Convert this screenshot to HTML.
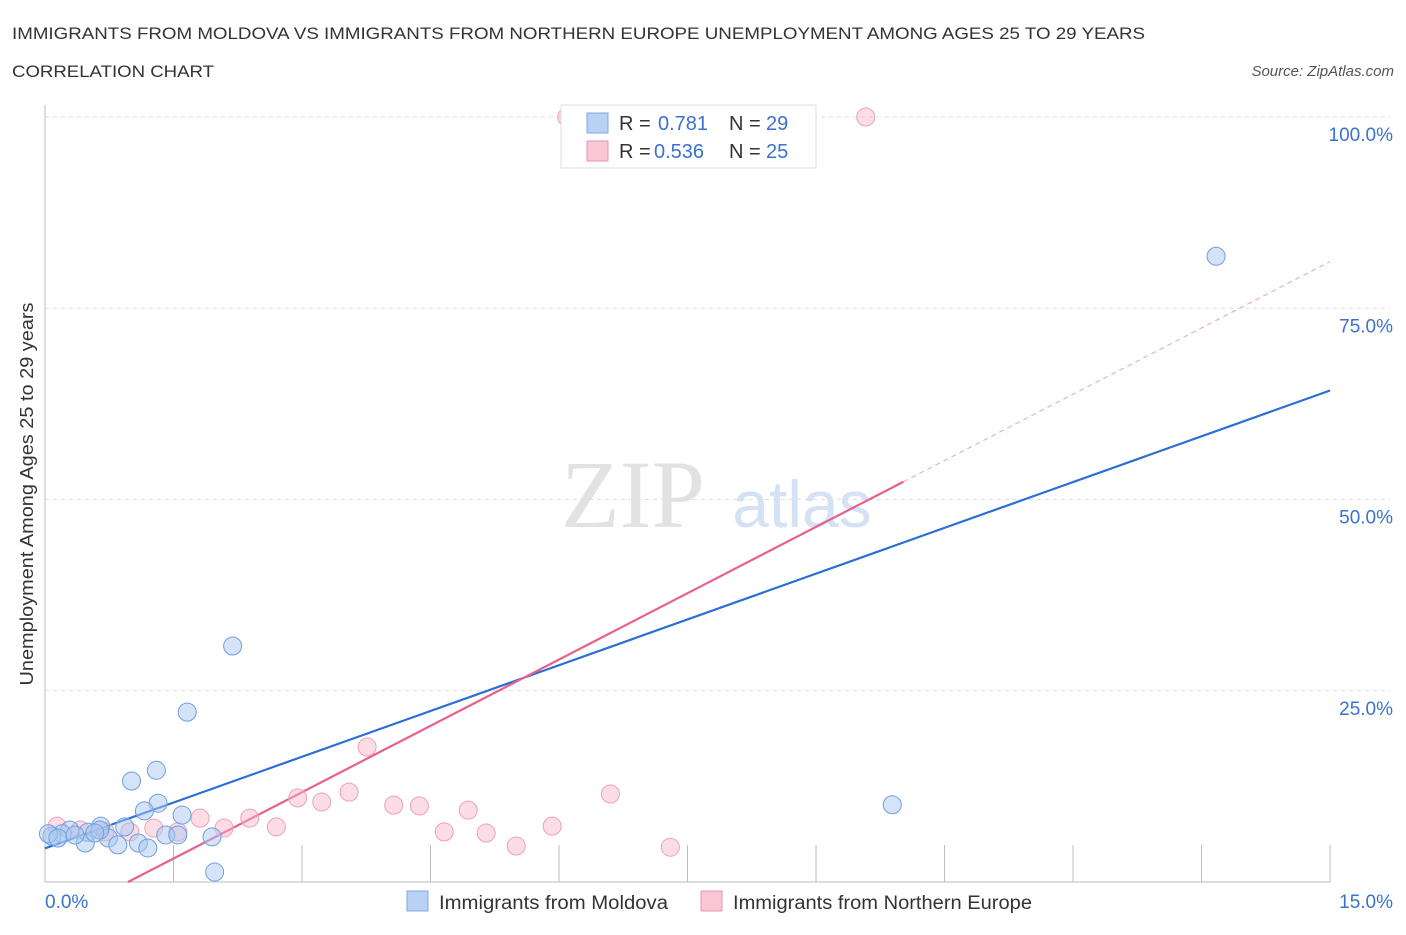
<!DOCTYPE html>
<html><head><meta charset="utf-8"><style>
body{margin:0;background:#fff;font-family:"Liberation Sans",sans-serif;}
</style></head><body>
<svg id="chart" width="1406" height="930" xmlns="http://www.w3.org/2000/svg" font-family="Liberation Sans, sans-serif">
<text x="12" y="39" font-size="17" fill="#333" textLength="1133" lengthAdjust="spacingAndGlyphs">IMMIGRANTS FROM MOLDOVA VS IMMIGRANTS FROM NORTHERN EUROPE UNEMPLOYMENT AMONG AGES 25 TO 29 YEARS</text>
<text x="12" y="77" font-size="17" fill="#333" textLength="202" lengthAdjust="spacingAndGlyphs">CORRELATION CHART</text>
<text x="1394" y="76" font-size="15" fill="#555" font-style="italic" text-anchor="end">Source: ZipAtlas.com</text>
<text x="633" y="527" font-size="96" fill="#e2e2e2" text-anchor="middle" style="font-family:'Liberation Serif',serif">ZIP</text>
<text x="802" y="527" font-size="66" fill="#d4e2f4" text-anchor="middle">atlas</text>
<text transform="translate(33,494) rotate(-90)" font-size="18" fill="#333" text-anchor="middle" textLength="383" lengthAdjust="spacingAndGlyphs">Unemployment Among Ages 25 to 29 years</text>
<g id="grid"></g><g id="axes"></g><g id="lines"></g><g id="pts"></g>
<g>
<rect x="561" y="105" width="255" height="63" fill="#fff" stroke="#ddd"/>
<rect x="587" y="113" width="21" height="20" fill="#b9d2f3" stroke="#7fa8e6"/>
<rect x="587" y="141" width="21" height="20" fill="#f9c6d6" stroke="#ee93b0"/>
<text x="619" y="130" font-size="20" fill="#333">R = </text><text x="658" y="130" font-size="20" fill="#3a72d0">0.781</text>
<text x="729" y="130" font-size="20" fill="#333">N = </text><text x="766" y="130" font-size="20" fill="#3a72d0">29</text>
<text x="619" y="158" font-size="20" fill="#333">R = </text><text x="654" y="158" font-size="20" fill="#3a72d0">0.536</text>
<text x="729" y="158" font-size="20" fill="#333">N = </text><text x="766" y="158" font-size="20" fill="#3a72d0">25</text>
</g>
<g>
<rect x="407" y="891" width="21" height="20" fill="#b9d2f3" stroke="#7fa8e6"/>
<text x="439" y="909" font-size="19" fill="#333" textLength="229" lengthAdjust="spacingAndGlyphs">Immigrants from Moldova</text>
<rect x="701" y="891" width="21" height="20" fill="#f9c6d6" stroke="#ee93b0"/>
<text x="733" y="909" font-size="19" fill="#333" textLength="299" lengthAdjust="spacingAndGlyphs">Immigrants from Northern Europe</text>
</g>
</svg>
<script>
const yTicks=[25,50,75,100];
const xTickLabels=["0.0%","15.0%"];
const blueX=[2.19,1.66,1.30,1.01,1.32,1.16,1.60,0.93,0.65,0.50,0.29,0.20,0.08,0.04,0.15,0.47,0.74,0.85,1.09,1.20,1.41,1.55,1.95,1.98,9.89,13.67,0.64,0.35,0.58];
const blueY=[30.85,22.2,14.6,13.2,10.3,9.3,8.75,7.2,7.3,6.5,6.8,6.3,6.0,6.3,5.75,5.1,5.75,4.85,5.1,4.45,6.15,6.15,5.9,1.3,10.1,81.8,6.8,6.15,6.4];
const pinkX=[6.09,9.58,3.76,3.55,3.23,2.95,4.07,4.37,4.94,6.60,2.39,2.70,2.09,1.81,1.27,1.55,0.99,0.70,0.14,0.41,4.66,5.15,5.50,5.92,7.30];
const pinkY=[100,100,17.65,11.75,10.45,11.0,10.05,9.95,9.4,11.5,8.35,7.2,7.05,8.35,7.05,6.55,6.55,6.55,7.3,6.8,6.55,6.4,4.7,7.3,4.55];
const blueFit=[4.4,3.99];
const pinkFit=[-5.6,5.78];
const NS="http://www.w3.org/2000/svg";
const sx=v=>45+v*85.67, sy=v=>882-v*7.65;
function mk(parent,tag,attrs){const e=document.createElementNS(NS,tag);for(const k in attrs)e.setAttribute(k,attrs[k]);document.getElementById(parent).appendChild(e);return e;}
yTicks.forEach(t=>{
 const l=mk('grid','line',{x1:45,x2:1390,y1:sy(t),y2:sy(t),stroke:'#ddd','stroke-dasharray':'4,4'});
 
 
 const tx=mk('grid','text',{x:1393,y:sy(t)+24,'font-size':19,fill:'#3a72d0','text-anchor':'end'});
 tx.textContent=t.toFixed(1)+'%';
 
 
});
mk('axes','line',{x1:45,x2:45,y1:105,y2:882,stroke:'#bbb'});
mk('axes','line',{x1:45,x2:1330,y1:882,y2:882,stroke:'#bbb'});
for(let i=1;i<=10;i++){const x=sx(i*1.5);const t=mk('axes','line',{x1:x,x2:x,y1:845,y2:882,stroke:'#bbb'});}
const xl0=mk('axes','text',{x:45,y:908,'font-size':19,fill:'#3a72d0'});xl0.textContent=xTickLabels[0];


const xl1=mk('axes','text',{x:1393,y:908,'font-size':19,fill:'#3a72d0','text-anchor':'end'});xl1.textContent=xTickLabels[1];


function pts(xs,ys,fill,stroke,name){xs.forEach((x,i)=>{const c=mk('pts','circle',{cx:sx(x),cy:sy(ys[i]),r:9,fill:fill,stroke:stroke,'stroke-width':1});

});}
pts(pinkX,pinkY,'rgba(248,180,200,0.45)','#eea0b8','pink-point');
pts(blueX,blueY,'rgba(170,200,240,0.5)','#6f9fe0','blue-point');
const bl=mk('lines','line',{x1:sx(0),y1:sy(blueFit[0]),x2:sx(15),y2:sy(blueFit[0]+15*blueFit[1]),stroke:'#2a6fd6','stroke-width':2.2});


const px0=-pinkFit[0]/pinkFit[1], px1=10.02;
const pl=mk('lines','line',{x1:sx(px0),y1:sy(0),x2:sx(px1),y2:sy(pinkFit[0]+px1*pinkFit[1]),stroke:'#e8608e','stroke-width':2.2});


const pd=mk('lines','line',{x1:sx(px1),y1:sy(pinkFit[0]+px1*pinkFit[1]),x2:sx(15),y2:sy(pinkFit[0]+15*pinkFit[1]),stroke:'#eaa0b8','stroke-width':1,'stroke-dasharray':'5,4'});


</script>
</body></html>
